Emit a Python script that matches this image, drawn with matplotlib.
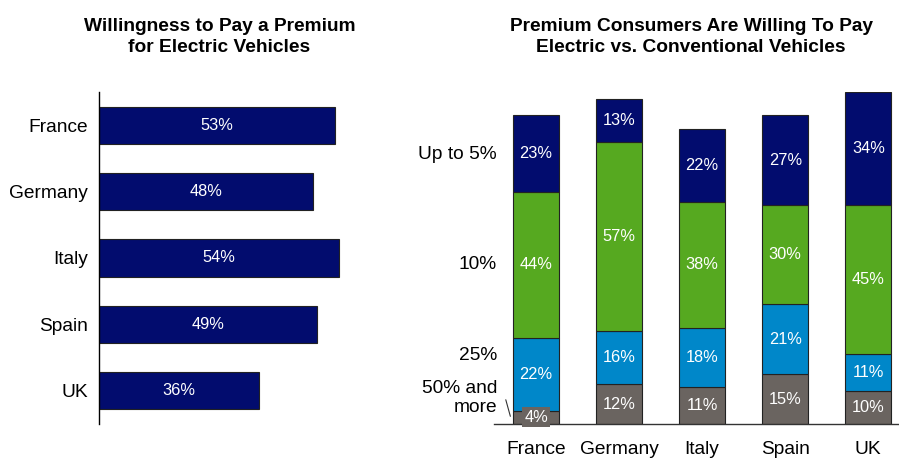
import matplotlib
matplotlib.use('Agg')
import matplotlib.pyplot as plt
import numpy as np

plt.rcParams['font.family'] = ['Liberation Sans', 'DejaVu Sans']

# Data
countries = ['France', 'Germany', 'Italy', 'Spain', 'UK']
willingness = [53, 48, 54, 49, 36]

premium_50 = [4, 12, 11, 15, 10]
premium_25 = [22, 16, 18, 21, 11]
premium_10 = [44, 57, 38, 30, 45]
premium_5 = [23, 13, 22, 27, 34]
segment_labels = ['50% and\nmore', '25%', '10%', 'Up to 5%']

navy = '#020C6E'
green = '#56A920'
blue = '#0087C9'
gray = '#6A6460'
edge = '#222222'

fig = plt.figure(figsize=(8.99, 4.59), dpi=100)

# Left chart
ax1 = fig.add_axes([99 / 899, 0.0763, 341 / 899, 0.7233])
y = np.arange(len(countries))
bars = ax1.barh(y, willingness, height=0.56, color=navy, edgecolor=edge, linewidth=0.8)
for b, v in zip(bars, willingness):
    ax1.text(b.get_width() / 2, b.get_y() + b.get_height() / 2, f'{v}%',
             ha='center', va='center', color='white', fontsize=11.8)
ax1.set_ylim(4.5, -0.5)
ax1.set_xlim(0, 76.6)
ax1.set_yticks(y)
ax1.set_yticklabels(countries, fontsize=13.8)
ax1.tick_params(axis='y', length=0, pad=8)
ax1.set_xticks([])
for s in ['top', 'right', 'bottom']:
    ax1.spines[s].set_visible(False)
ax1.spines['left'].set_linewidth(1.0)

fig.text(219.5 / 899, 1 - 37 / 459, 'Willingness to Pay a Premium\nfor Electric Vehicles',
         ha='center', va='center', fontsize=13.8, fontweight='bold', linespacing=1.3)

# Right chart
ax2 = fig.add_axes([494 / 899, 0.0763, 405 / 899, 0.7233])
x = np.arange(len(countries))
w = 0.554
bottom = np.zeros(len(countries))
series = [(premium_50, gray), (premium_25, blue), (premium_10, green), (premium_5, navy)]
for vals, col in series:
    ax2.bar(x, vals, width=w, bottom=bottom, color=col, edgecolor=edge, linewidth=0.8)
    for i, v in enumerate(vals):
        yc = bottom[i] + v / 2
        if i == 0 and v == 4:
            ax2.text(x[i], yc, f'{v}%', ha='center', va='center', color='white', fontsize=11.8,
                     bbox=dict(boxstyle='square,pad=0.15', facecolor=gray, edgecolor='none'))
        else:
            ax2.text(x[i], yc, f'{v}%', ha='center', va='center', color='white', fontsize=11.8)
    bottom += np.array(vals)

ax2.set_xlim(-0.506, 4.37)
ax2.set_ylim(0, 100)
ax2.set_xticks(x)
ax2.set_xticklabels(countries, fontsize=13.8)
ax2.tick_params(axis='x', length=0, pad=12)
ax2.set_yticks([])
for s in ['top', 'right', 'left']:
    ax2.spines[s].set_visible(False)
ax2.spines['bottom'].set_color('#333333')
ax2.spines['bottom'].set_linewidth(1.0)

# segment labels to the left of the first bar
label_y = [7.8, 20.5, 48, 81.3]
for lab, ly in zip(segment_labels, label_y):
    ax2.text(-0.47, ly, lab, ha='right', va='center', fontsize=13.8,
             linespacing=1.15, clip_on=False)
ax2.annotate('', xy=(-0.30, 1.5), xytext=(-0.373, 8.1),
             arrowprops=dict(arrowstyle='-', color='#333333', lw=0.8),
             annotation_clip=False)

fig.text(691 / 899, 1 - 37 / 459, 'Premium Consumers Are Willing To Pay\nElectric vs. Conventional Vehicles',
         ha='center', va='center', fontsize=13.8, fontweight='bold', linespacing=1.3)

fig.savefig('out.png', dpi=100)
